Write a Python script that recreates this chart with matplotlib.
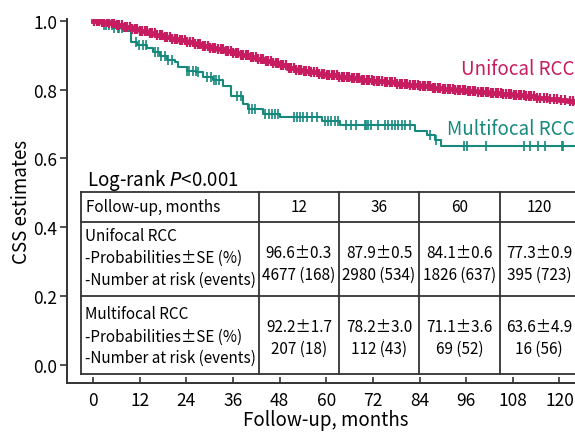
import numpy as np
import matplotlib
matplotlib.use("Agg")
import matplotlib.pyplot as plt

plt.rcParams['font.family'] = ['Noto Sans CJK KR', 'DejaVu Sans']
plt.rcParams['mathtext.fontset'] = 'dejavusans'

# Kaplan-Meier step data (months, CSS)
uni_t = [0, 2, 4, 6, 8, 10, 12, 14, 16, 18, 20, 22, 24, 26, 28, 30, 32, 34, 36,
         38, 40, 42, 44, 46, 48, 50, 52, 54, 56, 58, 60, 63, 66, 69, 72, 75, 78,
         81, 84, 87, 90, 93, 96, 99, 102, 105, 108, 111, 114, 117, 120, 122, 124]
uni_s = [1.000, 0.997, 0.992, 0.987, 0.982, 0.976, 0.970, 0.965, 0.959, 0.954,
         0.948, 0.943, 0.937, 0.932, 0.927, 0.922, 0.917, 0.912, 0.906, 0.900,
         0.894, 0.889, 0.884, 0.877, 0.870, 0.864, 0.858, 0.854, 0.850, 0.846,
         0.842, 0.838, 0.834, 0.829, 0.825, 0.821, 0.817, 0.813, 0.809, 0.806,
         0.803, 0.800, 0.797, 0.793, 0.790, 0.786, 0.783, 0.780, 0.776, 0.773,
         0.769, 0.766, 0.763]
uni_cens = [0.3, 1.0, 1.6, 2.2, 2.9, 3.5, 4.2, 4.8, 5.5, 6.1, 6.8, 7.4, 8.1, 8.7,
            9.4, 10.0, 10.7, 11.3, 12.0, 12.6, 13.3, 13.9, 14.6, 15.2, 15.9, 16.5,
            17.2, 17.8, 18.5, 19.1, 19.8, 20.4, 21.1, 21.7, 22.4, 23.0, 23.7, 24.3,
            25.0, 25.6, 26.3, 26.9, 27.6, 28.2, 28.9, 29.5, 30.2, 30.8, 31.5, 32.1,
            32.8, 33.4, 34.1, 34.7, 35.4, 36.0, 36.7, 37.3, 38.0, 38.6, 39.3, 39.9,
            40.6, 41.2, 41.9, 42.5, 43.2, 43.8, 44.5, 45.1, 45.8, 46.4, 47.1, 47.7,
            48.4, 49.0, 49.7, 50.3, 51.0, 51.6, 52.3, 52.9, 53.6, 54.2, 54.9, 55.5,
            56.2, 56.8, 57.5, 58.1, 58.8, 59.4, 60.1, 60.7, 61.4, 62.0, 62.7, 63.3,
            64.0, 64.6, 65.3, 65.9, 66.6, 67.2, 67.9, 68.5, 69.2, 69.8, 70.5, 71.1,
            71.8, 72.4, 73.1, 73.7, 74.4, 75.0, 75.7, 76.3, 77.0, 77.6, 78.3, 78.9,
            79.6, 80.2, 80.9, 81.5, 82.2, 82.8, 83.5, 84.1, 84.8, 85.4, 86.1, 86.7,
            87.4, 88.0, 88.7, 89.3, 90.0, 90.6, 91.3, 91.9, 92.6, 93.2, 93.9, 94.5,
            95.2, 95.8, 96.5, 97.1, 97.8, 98.4, 99.1, 99.7, 100.4, 101.0, 101.7,
            102.3, 103.0, 103.6, 104.3, 104.9, 105.6, 106.2, 106.9, 107.5, 108.2,
            108.8, 109.5, 110.1, 110.8, 111.4, 112.1, 112.7, 113.4, 114.2, 115.0,
            115.9, 116.8, 117.6, 118.5, 119.4, 120.5, 121.5, 122.6, 123.5]

multi_t = [0, 2.7, 5.2, 7.8, 9.7, 11.2, 13.8, 15.5, 17.2, 18.9, 21.1, 21.9, 24.1,
           26.6, 28.3, 30.9, 33.5, 35.6, 38.6, 39.9, 43.7, 48.0, 58.8, 63.5, 82.8,
           85.8, 87.9, 89.6, 124]
multi_s = [1.0, 0.988, 0.980, 0.970, 0.937, 0.930, 0.922, 0.908, 0.898, 0.886,
           0.879, 0.867, 0.855, 0.850, 0.838, 0.828, 0.809, 0.780, 0.757, 0.744,
           0.730, 0.720, 0.710, 0.698, 0.681, 0.667, 0.654, 0.635, 0.635]
multi_cens = [2.7, 3.4, 4.2, 5.0, 5.5, 6.3, 6.8, 7.4, 11.0, 11.9, 12.8, 13.6,
              15.9, 16.8, 17.6, 18.5, 19.3, 20.2, 24.3, 24.7, 25.6, 26.4, 26.9,
              29.4, 30.3, 31.1, 31.6, 32.4, 37.1, 38.0, 40.0, 40.8, 41.7, 44.3,
              45.2, 46.0, 46.9, 47.7, 51.6, 52.4, 53.3, 54.1, 55.0, 56.3, 57.6,
              59.6, 60.5, 61.3, 62.2, 63.0, 65.1, 66.4, 67.7, 69.9, 70.3, 70.8,
              71.6, 73.4, 75.1, 76.0, 76.8, 77.7, 78.5, 79.4, 80.2, 81.5, 86.6,
              88.3, 95.4, 96.2, 101.0, 111.0, 112.3, 114.6, 116.3, 120.6, 121.0]

# table contents
tbl_months = ["12", "36", "60", "120"]
uni_prob = ["96.6\u00b10.3", "87.9\u00b10.5", "84.1\u00b10.6", "77.3\u00b10.9"]
uni_risk = ["4677 (168)", "2980 (534)", "1826 (637)", "395 (723)"]
multi_prob = ["92.2\u00b11.7", "78.2\u00b13.0", "71.1\u00b13.6", "63.6\u00b14.9"]
multi_risk = ["207 (18)", "112 (43)", "69 (52)", "16 (56)"]

MAG = "#c81c60"
TEAL = "#16897c"
DARK = "#333333"

W, H = 575, 435
fig = plt.figure(figsize=(W / 100, H / 100), dpi=100)
ax = fig.add_axes([67 / W, (H - 384) / H, 508 / W, 364 / H])


def km(ax, t, s, cens, color, lw, ms, mew):
    ax.step(t, s, where='post', color=color, lw=lw, zorder=3)
    idx = np.searchsorted(t, cens, side='right') - 1
    ys = np.array(s)[idx]
    ax.plot(cens, ys, ls='none', marker='|', ms=ms, mew=mew, color=color, zorder=4)


km(ax, multi_t, multi_s, multi_cens, TEAL, 1.5, 6.5, 1.2)
km(ax, uni_t, uni_s, uni_cens, MAG, 3.5, 7, 1.6)

ax.set_xlim(-6.7, 124)
ax.set_ylim(-0.052, 1.005)
ax.set_xticks(np.arange(0, 121, 12))
ax.set_yticks([0.0, 0.2, 0.4, 0.6, 0.8, 1.0])
ax.set_yticklabels(["0.0", "0.2", "0.4", "0.6", "0.8", "1.0"])
ax.tick_params(axis='x', direction='in', length=4, width=1.2, color=DARK,
               labelsize=12.5, pad=6)
ax.tick_params(axis='y', direction='out', length=5, width=1.2, color=DARK,
               labelsize=12.5, pad=2)
for side in ['top', 'right']:
    ax.spines[side].set_visible(False)
for side in ['left', 'bottom']:
    ax.spines[side].set_linewidth(1.4)
    ax.spines[side].set_color(DARK)
ax.set_ylabel("CSS estimates", fontsize=13.5, labelpad=1)

ax.text(0.999, 0.865, "Unifocal RCC", transform=ax.transAxes, color=MAG,
        fontsize=13.5, ha='right', va='center')
ax.text(0.999, 0.700, "Multifocal RCC", transform=ax.transAxes, color=TEAL,
        fontsize=13.5, ha='right', va='center')


# table drawn in figure pixels
def fx(x):
    return x / W


def fy(y):
    return 1 - y / H


fig.text(fx(326), fy(421), "Follow-up, months", fontsize=13.5, ha='center',
         va='center')
fig.text(fx(87), fy(181), r"Log-rank $P$<0.001", fontsize=13.5, va='center',
         ha='left')

col_x = [81, 259, 339, 419, 500, 578]
row_y = [193, 223, 297, 375]
lkw = dict(color=DARK, lw=1.3, transform=fig.transFigure, clip_on=False)
for y in row_y:
    fig.add_artist(plt.Line2D([fx(81), fx(578)], [fy(y), fy(y)], **lkw))
for x in col_x:
    fig.add_artist(plt.Line2D([fx(x), fx(x)], [fy(193), fy(375)], **lkw))

fs = 11
fig.text(fx(86), fy(208), "Follow-up, months", fontsize=fs, va='center')
labels_y = [(237, "Unifocal RCC"), (258, "-Probabilities\u00b1SE (%)"),
            (280, "-Number at risk (events)"), (315, "Multifocal RCC"),
            (337, "-Probabilities\u00b1SE (%)"), (358, "-Number at risk (events)")]
for y, s in labels_y:
    fig.text(fx(85), fy(y), s, fontsize=fs, va='center')

for i in range(4):
    cx = (col_x[i + 1] + col_x[i + 2]) / 2
    fig.text(fx(cx), fy(208), tbl_months[i], fontsize=fs, ha='center', va='center')
    fig.text(fx(cx), fy(253), uni_prob[i], fontsize=fs, ha='center', va='center')
    fig.text(fx(cx), fy(275), uni_risk[i], fontsize=fs, ha='center', va='center')
    fig.text(fx(cx), fy(328), multi_prob[i], fontsize=fs, ha='center', va='center')
    fig.text(fx(cx), fy(349), multi_risk[i], fontsize=fs, ha='center', va='center')

fig.savefig("out.png", dpi=100)
